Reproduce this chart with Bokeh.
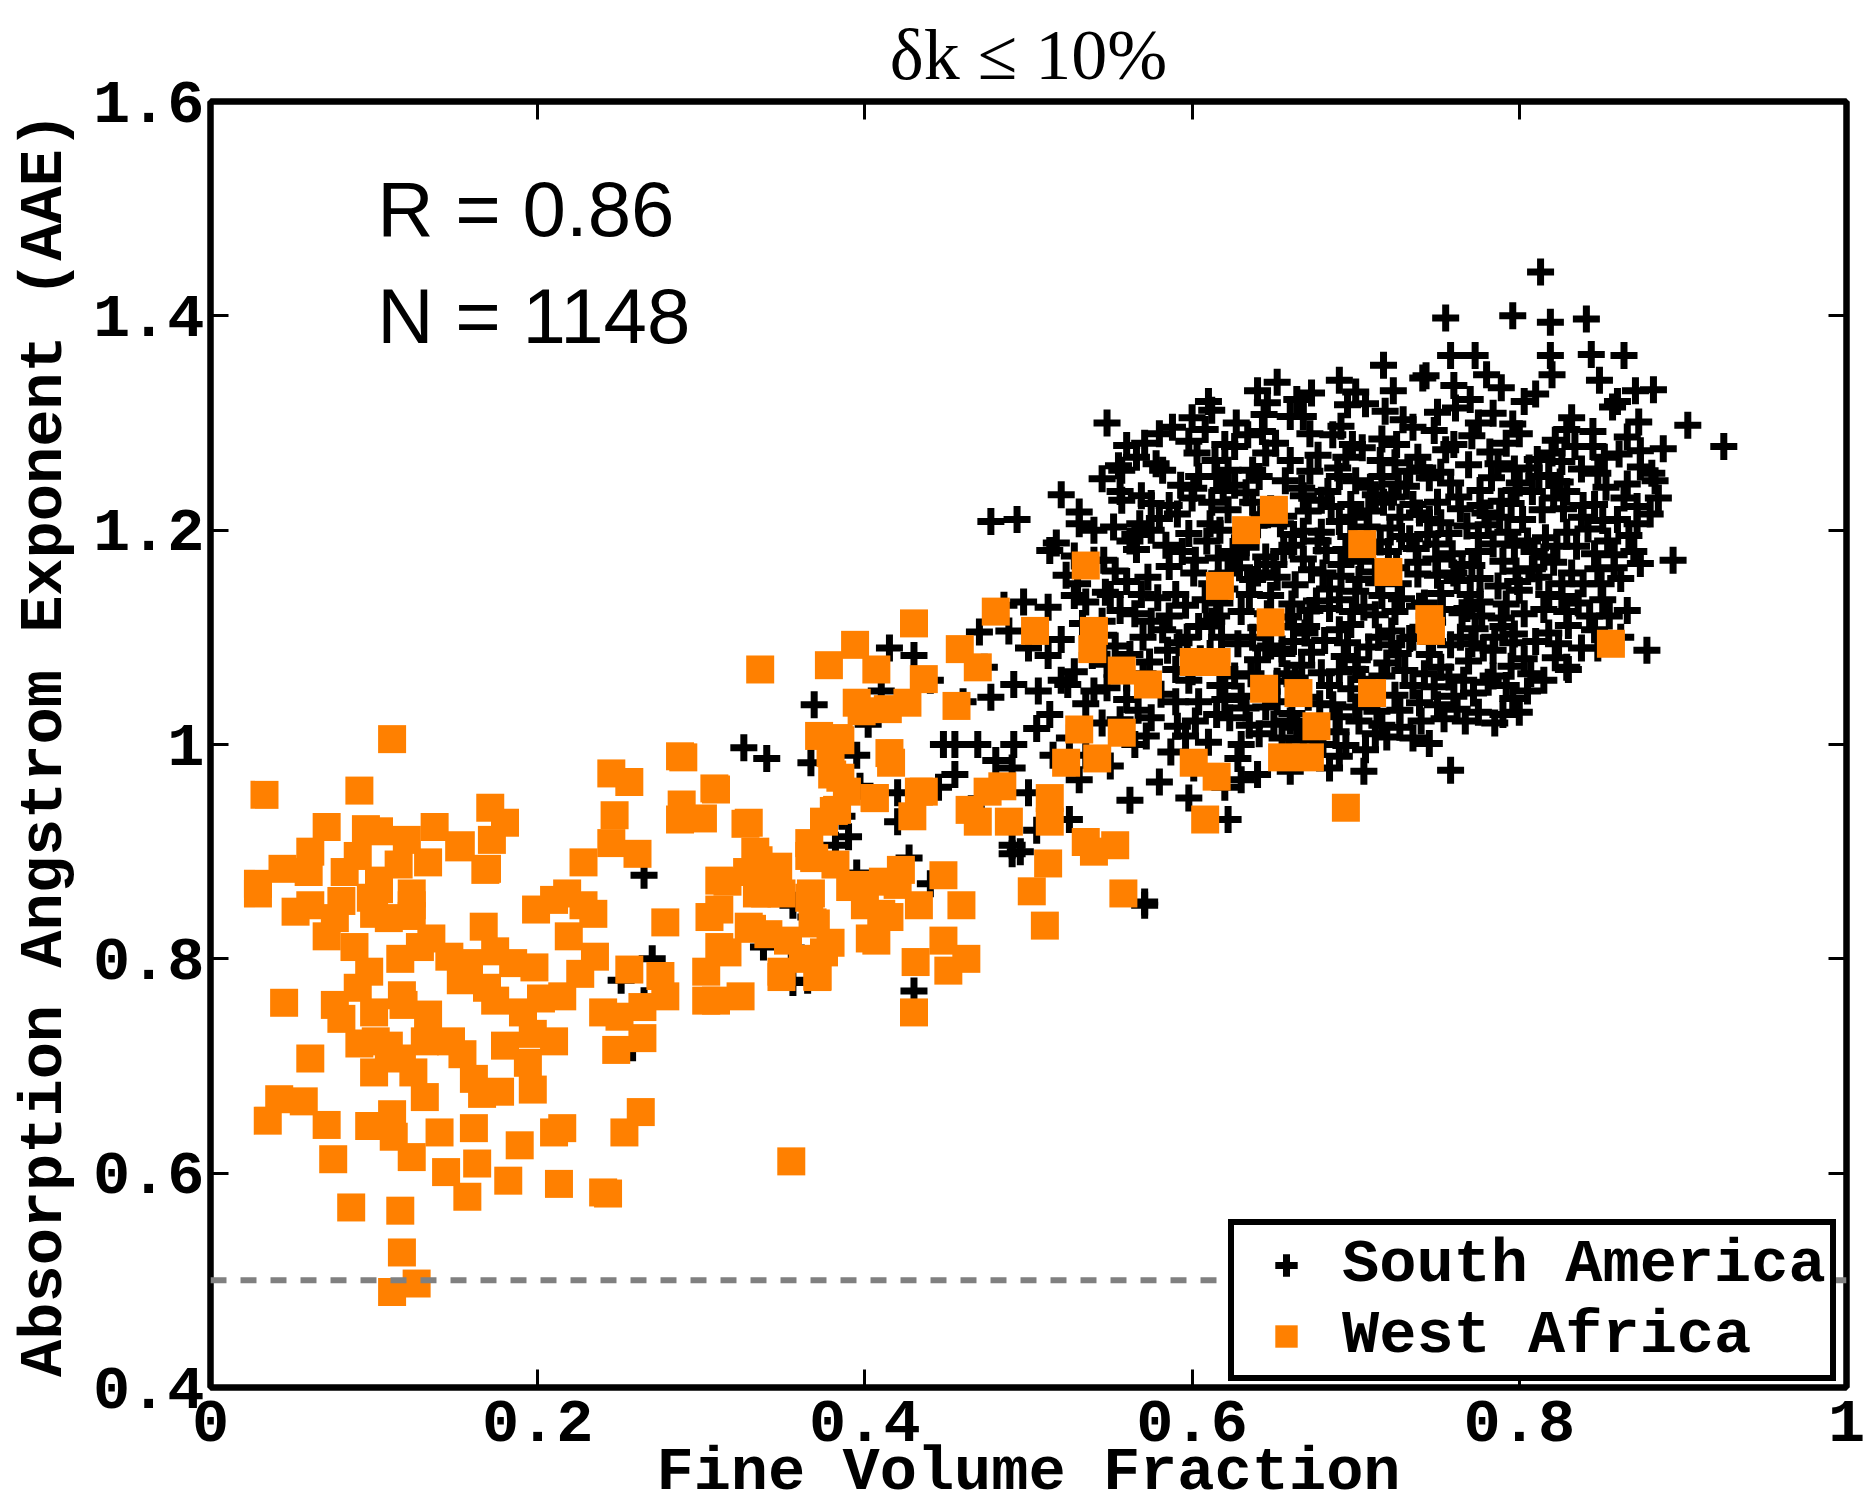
from bokeh.plotting import figure
from bokeh.models import (LinearAxis, Range1d, Label, Legend, LegendItem, FixedTicker,
                          Span, CustomJSTickFormatter)
from bokeh.embed import file_html
from bokeh.resources import INLINE

# ---------------- data ----------------
x_ticks = [0, 0.2, 0.4, 0.6, 0.8, 1]
x_tick_labels = ["0", "0.2", "0.4", "0.6", "0.8", "1"]
y_ticks = [0.4, 0.6, 0.8, 1.0, 1.2, 1.4, 1.6]
y_tick_labels = ["0.4", "0.6", "0.8", "1", "1.2", "1.4", "1.6"]
aae_reference = 0.5
title_text = "\u03b4k \u2264 10%"
stats_text = ["R = 0.86", "N = 1148"]
series_names = ["South America", "West Africa"]

south_america = [
    # sparse outliers / upper envelope
    (0.813, 1.441), (0.755, 1.398), (0.796, 1.400), (0.819, 1.394), (0.841, 1.397),
    (0.773, 1.363), (0.758, 1.363), (0.819, 1.363), (0.844, 1.364), (0.864, 1.363),
    (0.717, 1.354), (0.743, 1.344), (0.882, 1.331), (0.903, 1.298), (0.925, 1.278),
    (0.874, 1.274), (0.881, 1.253), (0.894, 1.172), (0.872, 1.206), (0.878, 1.088),
    (0.829, 1.072), (0.805, 1.050), (0.767, 1.022), (0.758, 0.976), (0.684, 0.978),
    (0.622, 0.930), (0.630, 0.967), (0.571, 0.853), (0.562, 0.948), (0.548, 1.300),
    (0.571, 1.281), (0.608, 1.294), (0.520, 1.233), (0.477, 1.208), (0.493, 1.210),
    (0.513, 1.181), (0.531, 1.206), (0.646, 1.319), (0.660, 1.306), (0.673, 1.328),
    (0.644, 1.308), (0.695, 1.317), (0.615, 1.250), (0.626, 1.278), (0.637, 1.256),
    (0.601, 1.239), (0.582, 1.256), (0.557, 1.256), (0.557, 1.228), (0.568, 1.206),
    (0.546, 1.172), (0.528, 1.139), (0.497, 1.133), (0.488, 1.106), (0.512, 1.083),
    (0.524, 1.056), (0.506, 1.050), (0.491, 1.056), (0.473, 1.072), (0.477, 1.044),
    (0.513, 1.028), (0.525, 1.006), (0.491, 1.000), (0.469, 1.000), (0.448, 1.000),
    (0.490, 0.978), (0.531, 0.967), (0.455, 0.972), (0.430, 1.083), (0.369, 1.037),
    (0.410, 1.050), (0.340, 0.987), (0.402, 1.019), (0.367, 0.983), (0.397, 0.961),
    (0.386, 0.933), (0.420, 0.928), (0.390, 0.914), (0.382, 0.906), (0.427, 0.894),
    (0.490, 0.906), (0.495, 0.900), (0.571, 0.850), (0.367, 0.839), (0.356, 0.850),
    (0.338, 0.811), (0.356, 0.778), (0.265, 0.878), (0.251, 0.780), (0.265, 0.761),
    (0.258, 0.717), (0.326, 0.997),
    # crosses among the West Africa squares
    (0.375, 1.000), (0.395, 0.990), (0.420, 0.955), (0.445, 0.960), (0.465, 0.940),
    (0.480, 0.985), (0.500, 0.955), (0.505, 1.015), (0.460, 1.040), (0.440, 1.060),
    (0.415, 1.090), (0.470, 1.105), (0.485, 1.130), (0.455, 1.000), (0.515, 0.990),
    (0.535, 0.990), (0.545, 1.020), (0.520, 1.060), (0.500, 1.090), (0.540, 1.050),
    (0.550, 0.980), (0.565, 1.000), (0.525, 0.930), (0.505, 0.920), (0.490, 0.898),
    (0.430, 0.770), (0.440, 0.870), (0.395, 0.880), (0.355, 0.810), (0.365, 0.780),
    (0.270, 0.800),
    # dense core
    (0.652, 1.338), (0.700, 1.329), (0.741, 1.342), (0.789, 1.333), (0.810, 1.327),
    (0.849, 1.340), (0.871, 1.330),
    (0.612, 1.312), (0.668, 1.306), (0.706, 1.318), (0.729, 1.303), (0.761, 1.314),
    (0.784, 1.309), (0.803, 1.320), (0.832, 1.305), (0.857, 1.315), (0.873, 1.301),
    (0.588, 1.296), (0.634, 1.289), (0.691, 1.297), (0.716, 1.285), (0.748, 1.293),
    (0.771, 1.288), (0.796, 1.299), (0.822, 1.284), (0.845, 1.292), (0.866, 1.287),
    (0.560, 1.279), (0.603, 1.272), (0.651, 1.281), (0.677, 1.270), (0.704, 1.277),
    (0.738, 1.268), (0.760, 1.280), (0.782, 1.273), (0.811, 1.266), (0.834, 1.278),
    (0.861, 1.271), (0.888, 1.276),
    (0.578, 1.262), (0.622, 1.256), (0.660, 1.265), (0.689, 1.258), (0.724, 1.263),
    (0.752, 1.254), (0.769, 1.261), (0.797, 1.257), (0.826, 1.264), (0.848, 1.253),
    (0.874, 1.259),
    (0.545, 1.248), (0.593, 1.242), (0.641, 1.250), (0.667, 1.239), (0.700, 1.246),
    (0.731, 1.241), (0.745, 1.249), (0.776, 1.237), (0.800, 1.244), (0.818, 1.251),
    (0.853, 1.240), (0.883, 1.246),
    (0.569, 1.232), (0.612, 1.226), (0.633, 1.235), (0.679, 1.228), (0.712, 1.233),
    (0.735, 1.224), (0.763, 1.231), (0.789, 1.227), (0.808, 1.236), (0.839, 1.223),
    (0.864, 1.230),
    (0.531, 1.217), (0.580, 1.211), (0.622, 1.219), (0.656, 1.213), (0.690, 1.208),
    (0.708, 1.218), (0.727, 1.212), (0.752, 1.207), (0.779, 1.216), (0.802, 1.210),
    (0.827, 1.220), (0.851, 1.209), (0.880, 1.215),
    (0.552, 1.203), (0.598, 1.197), (0.640, 1.205), (0.668, 1.199), (0.697, 1.194),
    (0.721, 1.202), (0.744, 1.196), (0.768, 1.204), (0.793, 1.198), (0.816, 1.193),
    (0.842, 1.201), (0.867, 1.195),
    (0.517, 1.188), (0.566, 1.182), (0.609, 1.190), (0.627, 1.179), (0.661, 1.186),
    (0.682, 1.181), (0.715, 1.189), (0.737, 1.183), (0.759, 1.178), (0.784, 1.187),
    (0.809, 1.180), (0.835, 1.185), (0.858, 1.177),
    (0.540, 1.172), (0.586, 1.166), (0.616, 1.174), (0.650, 1.168), (0.673, 1.163),
    (0.703, 1.171), (0.725, 1.165), (0.749, 1.173), (0.771, 1.167), (0.798, 1.162),
    (0.821, 1.170), (0.848, 1.164), (0.874, 1.169),
    (0.523, 1.158), (0.560, 1.152), (0.601, 1.160), (0.637, 1.154), (0.663, 1.149),
    (0.691, 1.157), (0.714, 1.151), (0.738, 1.159), (0.762, 1.153), (0.787, 1.148),
    (0.812, 1.156), (0.839, 1.150), (0.862, 1.155),
    (0.547, 1.142), (0.579, 1.137), (0.620, 1.145), (0.648, 1.139), (0.676, 1.134),
    (0.700, 1.143), (0.728, 1.136), (0.752, 1.141), (0.776, 1.133), (0.800, 1.144),
    (0.826, 1.138), (0.851, 1.135),
    (0.512, 1.128), (0.565, 1.122), (0.596, 1.130), (0.630, 1.124), (0.659, 1.119),
    (0.684, 1.127), (0.712, 1.121), (0.739, 1.129), (0.765, 1.123), (0.789, 1.118),
    (0.815, 1.126), (0.843, 1.120), (0.866, 1.125),
    (0.533, 1.113), (0.582, 1.107), (0.612, 1.115), (0.642, 1.109), (0.669, 1.104),
    (0.697, 1.112), (0.722, 1.106), (0.747, 1.114), (0.773, 1.108), (0.797, 1.103),
    (0.830, 1.111),
    (0.520, 1.098), (0.553, 1.092), (0.597, 1.100), (0.628, 1.094), (0.655, 1.089),
    (0.681, 1.097), (0.708, 1.091), (0.733, 1.099), (0.758, 1.093), (0.784, 1.088),
    (0.810, 1.096), (0.838, 1.090),
    (0.539, 1.083), (0.574, 1.077), (0.611, 1.085), (0.640, 1.079), (0.667, 1.074),
    (0.693, 1.082), (0.719, 1.076), (0.745, 1.084), (0.769, 1.078), (0.795, 1.073),
    (0.822, 1.081),
    (0.528, 1.068), (0.560, 1.062), (0.590, 1.070), (0.626, 1.064), (0.652, 1.059),
    (0.679, 1.067), (0.704, 1.061), (0.730, 1.069), (0.757, 1.063), (0.781, 1.058),
    (0.807, 1.066),
    (0.548, 1.053), (0.581, 1.047), (0.617, 1.055), (0.645, 1.049), (0.671, 1.044),
    (0.697, 1.052), (0.724, 1.046), (0.748, 1.054), (0.772, 1.048), (0.796, 1.043),
    (0.535, 1.038), (0.567, 1.032), (0.604, 1.040), (0.633, 1.034), (0.661, 1.029),
    (0.686, 1.037), (0.713, 1.031), (0.739, 1.039), (0.762, 1.033), (0.790, 1.028),
    (0.556, 1.023), (0.591, 1.017), (0.623, 1.025), (0.650, 1.019), (0.676, 1.014),
    (0.702, 1.022), (0.727, 1.016), (0.754, 1.024),
    (0.572, 1.008), (0.610, 1.002), (0.641, 1.010), (0.668, 1.004), (0.694, 0.999),
    (0.719, 1.007), (0.745, 1.001),
    (0.587, 0.993), (0.628, 0.987), (0.659, 0.995), (0.690, 0.989),
    (0.601, 0.978), (0.640, 0.972),
    (0.637, 1.226), (0.662, 1.196), (0.685, 1.222), (0.705, 1.185), (0.726, 1.243),
    (0.745, 1.210), (0.760, 1.160), (0.684, 1.145), (0.705, 1.128), (0.735, 1.100),
    (0.662, 1.110), (0.640, 1.160), (0.720, 1.180), (0.775, 1.195), (0.690, 1.250),
    (0.655, 1.085), (0.700, 1.070), (0.745, 1.120), (0.770, 1.140), (0.615, 1.120),
    (0.625, 1.180), (0.600, 1.230), (0.575, 1.200), (0.590, 1.140), (0.605, 1.080),
    (0.570, 1.100), (0.715, 1.265), (0.755, 1.275), (0.795, 1.225), (0.815, 1.175),
    (0.825, 1.245), (0.785, 1.100),
    (0.598, 1.283), (0.627, 1.300), (0.664, 1.322), (0.686, 1.289), (0.718, 1.311),
    (0.735, 1.296), (0.770, 1.322), (0.792, 1.281), (0.829, 1.294), (0.852, 1.268),
    (0.566, 1.268), (0.614, 1.265), (0.645, 1.272), (0.672, 1.255), (0.694, 1.268),
    (0.716, 1.250), (0.741, 1.258), (0.787, 1.262), (0.812, 1.250), (0.838, 1.257),
    (0.866, 1.243), (0.556, 1.236), (0.586, 1.223), (0.626, 1.242), (0.648, 1.220),
    (0.668, 1.232), (0.697, 1.224), (0.722, 1.231), (0.750, 1.226), (0.776, 1.223),
    (0.798, 1.237), (0.821, 1.230), (0.846, 1.224), (0.872, 1.222), (0.540, 1.200),
    (0.565, 1.196), (0.611, 1.206), (0.632, 1.193), (0.654, 1.206), (0.679, 1.198),
    (0.707, 1.203), (0.733, 1.192), (0.757, 1.197), (0.781, 1.205), (0.805, 1.190),
    (0.829, 1.198), (0.854, 1.190), (0.528, 1.176), (0.553, 1.162), (0.594, 1.180),
    (0.622, 1.160), (0.645, 1.175), (0.668, 1.173), (0.691, 1.168), (0.712, 1.161),
    (0.738, 1.170), (0.765, 1.168), (0.790, 1.171), (0.808, 1.164), (0.832, 1.160),
    (0.858, 1.165), (0.535, 1.133), (0.569, 1.140), (0.608, 1.135), (0.635, 1.140),
    (0.661, 1.131), (0.690, 1.135), (0.716, 1.139), (0.742, 1.132), (0.768, 1.127),
    (0.792, 1.131), (0.818, 1.140), (0.836, 1.132), (0.546, 1.102), (0.575, 1.115),
    (0.604, 1.110), (0.637, 1.100), (0.662, 1.096), (0.690, 1.107), (0.714, 1.100),
    (0.741, 1.107), (0.764, 1.100), (0.790, 1.110), (0.818, 1.104), (0.846, 1.107),
    (0.548, 1.075), (0.585, 1.088), (0.620, 1.070), (0.648, 1.092), (0.673, 1.086),
    (0.701, 1.079), (0.726, 1.085), (0.752, 1.072), (0.778, 1.090), (0.803, 1.080),
    (0.560, 1.042), (0.598, 1.060), (0.630, 1.045), (0.658, 1.066), (0.684, 1.055),
    (0.710, 1.046), (0.735, 1.055), (0.760, 1.045), (0.784, 1.064), (0.575, 1.025),
    (0.615, 1.028), (0.645, 1.035), (0.664, 1.016), (0.690, 1.026), (0.716, 1.018),
    (0.740, 1.022), (0.596, 1.008), (0.630, 1.000), (0.655, 1.006), (0.680, 1.000),
    (0.706, 0.995), (0.620, 0.960), (0.598, 0.950), (0.580, 0.965), (0.660, 0.975),
    (0.705, 0.975),
    (0.604, 1.250), (0.619, 1.237), (0.657, 1.246), (0.683, 1.236), (0.709, 1.240),
    (0.733, 1.255), (0.758, 1.244), (0.783, 1.249), (0.806, 1.258), (0.829, 1.236),
    (0.591, 1.215), (0.617, 1.200), (0.644, 1.214), (0.671, 1.218), (0.699, 1.212),
    (0.717, 1.226), (0.739, 1.216), (0.764, 1.220), (0.788, 1.212), (0.814, 1.219),
    (0.838, 1.212), (0.584, 1.186), (0.602, 1.172), (0.633, 1.184), (0.656, 1.180),
    (0.677, 1.190), (0.694, 1.182), (0.728, 1.194), (0.749, 1.187), (0.775, 1.180),
    (0.797, 1.186), (0.823, 1.185), (0.846, 1.178), (0.573, 1.156), (0.612, 1.150),
    (0.629, 1.165), (0.652, 1.156), (0.680, 1.160), (0.702, 1.154), (0.726, 1.150),
    (0.750, 1.158), (0.776, 1.155), (0.799, 1.152), (0.826, 1.150), (0.850, 1.150),
    (0.556, 1.125), (0.586, 1.120), (0.617, 1.132), (0.646, 1.122), (0.672, 1.125),
    (0.698, 1.124), (0.724, 1.124), (0.753, 1.126), (0.777, 1.120), (0.803, 1.122),
    (0.829, 1.124), (0.562, 1.084), (0.592, 1.095), (0.618, 1.100), (0.645, 1.090),
    (0.670, 1.110), (0.695, 1.095), (0.722, 1.093), (0.747, 1.096), (0.771, 1.094),
    (0.796, 1.095), (0.824, 1.094), (0.570, 1.066), (0.600, 1.068), (0.636, 1.066),
    (0.663, 1.062), (0.690, 1.068), (0.716, 1.064), (0.742, 1.066), (0.766, 1.060),
    (0.792, 1.055), (0.590, 1.040), (0.620, 1.042), (0.652, 1.040), (0.678, 1.038),
    (0.700, 1.035), (0.727, 1.032), (0.750, 1.037), (0.775, 1.030), (0.602, 1.022),
    (0.635, 1.018), (0.660, 1.022), (0.688, 1.012), (0.712, 1.010), (0.735, 1.006),
    (0.620, 1.280), (0.643, 1.292), (0.672, 1.290), (0.698, 1.280), (0.725, 1.280),
    (0.750, 1.310), (0.775, 1.300), (0.800, 1.290), (0.820, 1.272), (0.845, 1.278),
    (0.610, 1.320), (0.640, 1.330), (0.690, 1.340), (0.723, 1.330), (0.760, 1.335),
    (0.780, 1.345), (0.820, 1.345), (0.860, 1.320), (0.860, 1.210), (0.870, 1.180),
    (0.885, 1.230), (0.855, 1.120), (0.862, 1.100), (0.848, 1.090), (0.830, 1.070),
    (0.815, 1.060), (0.800, 1.030), (0.785, 1.020), (0.575, 1.225), (0.562, 1.190),
    (0.550, 1.140), (0.545, 1.115), (0.540, 1.090), (0.530, 1.150), (0.555, 1.260),
    (0.580, 1.290), (0.600, 1.305),
]

west_africa = [
    # low fine-fraction cluster
    (0.033, 0.953), (0.091, 0.957), (0.111, 1.005), (0.171, 0.941), (0.172, 0.911),
    (0.168, 0.883), (0.153, 0.906), (0.137, 0.923), (0.120, 0.911), (0.103, 0.919),
    (0.095, 0.921), (0.071, 0.923), (0.061, 0.900), (0.044, 0.884), (0.029, 0.870),
    (0.029, 0.861), (0.060, 0.881), (0.082, 0.881), (0.103, 0.873), (0.123, 0.861),
    (0.133, 0.890), (0.115, 0.888), (0.052, 0.844), (0.061, 0.850), (0.080, 0.854),
    (0.100, 0.842), (0.123, 0.850), (0.071, 0.821), (0.088, 0.811), (0.097, 0.788),
    (0.045, 0.759), (0.076, 0.757), (0.090, 0.773), (0.100, 0.750), (0.080, 0.744),
    (0.091, 0.721), (0.109, 0.719), (0.100, 0.694), (0.061, 0.707), (0.042, 0.669),
    (0.057, 0.667), (0.035, 0.649), (0.071, 0.645), (0.097, 0.644), (0.111, 0.655),
    (0.112, 0.634), (0.123, 0.615), (0.075, 0.613), (0.086, 0.568), (0.116, 0.565),
    (0.117, 0.526), (0.126, 0.497), (0.111, 0.489), (0.140, 0.638), (0.144, 0.601),
    (0.157, 0.578), (0.163, 0.609), (0.161, 0.642), (0.166, 0.674), (0.161, 0.688),
    (0.182, 0.593), (0.189, 0.626), (0.213, 0.590), (0.210, 0.638), (0.215, 0.642),
    (0.197, 0.678), (0.177, 0.676), (0.240, 0.582), (0.253, 0.638), (0.263, 0.657),
    (0.131, 0.671), (0.124, 0.694), (0.117, 0.707), (0.101, 0.723), (0.147, 0.723),
    (0.131, 0.723), (0.154, 0.711), (0.118, 0.757), (0.133, 0.748), (0.117, 0.766),
    (0.158, 0.796), (0.153, 0.780), (0.146, 0.802), (0.116, 0.800), (0.128, 0.811),
    (0.135, 0.819), (0.169, 0.773), (0.185, 0.796), (0.198, 0.792), (0.174, 0.761),
    (0.191, 0.750), (0.202, 0.763), (0.210, 0.723), (0.194, 0.703), (0.180, 0.719),
    (0.197, 0.730), (0.167, 0.830), (0.174, 0.807), (0.199, 0.846), (0.218, 0.861),
    (0.228, 0.850), (0.234, 0.842), (0.219, 0.821), (0.235, 0.802), (0.226, 0.786),
    (0.215, 0.765), (0.240, 0.750), (0.250, 0.746), (0.264, 0.755), (0.264, 0.726),
    (0.248, 0.715), (0.256, 0.790), (0.278, 0.834), (0.275, 0.784), (0.278, 0.765),
    (0.303, 0.788), (0.303, 0.761), (0.324, 0.765), (0.311, 0.811), (0.311, 0.846),
    (0.329, 0.830), (0.341, 0.823), (0.349, 0.788), (0.371, 0.784), (0.362, 0.800),
    (0.379, 0.815), (0.368, 0.834), (0.366, 0.857), (0.341, 0.873), (0.328, 0.881),
    (0.311, 0.873), (0.335, 0.892), (0.366, 0.896), (0.382, 0.888), (0.334, 0.861),
    (0.329, 0.927), (0.309, 0.958), (0.289, 0.988), (0.301, 0.931), (0.288, 0.944),
    (0.245, 0.973), (0.256, 0.965), (0.247, 0.934), (0.245, 0.908), (0.261, 0.898),
    (0.228, 0.890), (0.210, 0.855), (0.385, 1.004), (0.385, 0.969), (0.381, 0.938),
    (0.366, 0.908), (0.406, 0.950), (0.398, 1.031), (0.415, 0.992), (0.396, 0.869),
    (0.410, 0.842), (0.403, 0.819), (0.420, 0.869), (0.180, 0.927), (0.169, 0.884),
    (0.152, 0.904), (0.123, 0.840), (0.103, 0.865), (0.090, 0.896), (0.076, 0.838),
    (0.098, 0.857), (0.109, 0.838),
    # mid and high fine-fraction squares
    (0.336, 1.070), (0.394, 1.093), (0.378, 1.074), (0.407, 1.070), (0.430, 1.113),
    (0.395, 1.039), (0.414, 1.033), (0.426, 1.039), (0.436, 1.061), (0.456, 1.036),
    (0.458, 1.089), (0.469, 1.072), (0.480, 1.124), (0.504, 1.106), (0.535, 1.167),
    (0.540, 1.106), (0.539, 1.089), (0.633, 1.200), (0.650, 1.219), (0.617, 1.148),
    (0.648, 1.114), (0.704, 1.187), (0.720, 1.161), (0.745, 1.117), (0.746, 1.106),
    (0.856, 1.094), (0.604, 1.077), (0.615, 1.077), (0.601, 1.077), (0.557, 1.069),
    (0.573, 1.056), (0.644, 1.052), (0.665, 1.048), (0.710, 1.048), (0.676, 1.017),
    (0.655, 0.988), (0.672, 0.988), (0.601, 0.983), (0.615, 0.970), (0.608, 0.930),
    (0.694, 0.941), (0.531, 1.014), (0.557, 1.011), (0.523, 0.983), (0.542, 0.987),
    (0.513, 0.950), (0.513, 0.928), (0.512, 0.889), (0.535, 0.909), (0.553, 0.906),
    (0.540, 0.900), (0.502, 0.863), (0.558, 0.861), (0.510, 0.831), (0.484, 0.961),
    (0.488, 0.928), (0.475, 0.956), (0.464, 0.939), (0.469, 0.928), (0.433, 0.956),
    (0.416, 0.983), (0.429, 0.933), (0.436, 0.956), (0.406, 0.950), (0.380, 0.972),
    (0.389, 0.956), (0.375, 0.928), (0.383, 0.939), (0.372, 1.008), (0.384, 1.006),
    (0.379, 0.992), (0.287, 0.989), (0.308, 0.959), (0.287, 0.930), (0.327, 0.926),
    (0.333, 0.900), (0.347, 0.886), (0.316, 0.872), (0.339, 0.861), (0.369, 0.894),
    (0.349, 0.861), (0.367, 0.861), (0.391, 0.867), (0.400, 0.850), (0.411, 0.872),
    (0.422, 0.883), (0.433, 0.850), (0.415, 0.839), (0.448, 0.878), (0.459, 0.850),
    (0.407, 0.817), (0.431, 0.797), (0.448, 0.817), (0.462, 0.800), (0.451, 0.789),
    (0.430, 0.750), (0.370, 0.833), (0.375, 0.806), (0.353, 0.817), (0.349, 0.783),
    (0.371, 0.783), (0.331, 0.828), (0.316, 0.806), (0.305, 0.839), (0.309, 0.761),
    (0.355, 0.611), (0.243, 0.581),
]

sa_x = [p[0] for p in south_america]
sa_y = [p[1] for p in south_america]
wa_x = [p[0] for p in west_africa]
wa_y = [p[1] for p in west_africa]

# ---------------- figure ----------------
MONO = "Liberation Mono"
FS = "62px"

p = figure(width=1870, height=1510,
           x_range=Range1d(0, 1), y_range=Range1d(0.4, 1.6),
           output_backend="svg", toolbar_location=None,
           min_border_left=210, min_border_right=24,
           min_border_top=101, min_border_bottom=121)

p.background_fill_color = "white"
p.border_fill_color = "white"
p.grid.visible = False
p.outline_line_color = "black"
p.outline_line_width = 6

p.title.text = title_text
p.title.align = "center"
p.title.text_font = "Liberation Serif"
p.title.text_font_style = "normal"
p.title.text_font_size = "72px"
p.title.text_color = "black"
p.title.standoff = 14


def fmt(vals, labs):
    return CustomJSTickFormatter(
        args=dict(tick_vals=vals, tick_labs=labs),
        code="const i = tick_vals.findIndex(t => Math.abs(t - tick) < 1e-9); return i >= 0 ? tick_labs[i] : '';")


def style_axis(ax, vals, labs, show_labels=True):
    ax.ticker = FixedTicker(ticks=vals)
    ax.axis_line_width = 6
    ax.axis_line_color = "black"
    ax.major_tick_in = 18
    ax.major_tick_out = 0
    ax.major_tick_line_width = 3
    ax.major_tick_line_color = "black"
    ax.minor_tick_line_color = None
    if show_labels:
        ax.formatter = fmt(vals, labs)
        ax.major_label_text_font = MONO
        ax.major_label_text_font_style = "bold"
        ax.major_label_text_font_size = FS
        ax.major_label_text_color = "black"
        ax.major_label_text_line_height = 0.9
        ax.axis_label_text_font = MONO
        ax.axis_label_text_font_style = "bold"
        ax.axis_label_text_font_size = FS
        ax.axis_label_text_color = "black"
        ax.axis_label_text_line_height = 0.9
    else:
        ax.formatter = CustomJSTickFormatter(code="return '';")
        ax.major_label_text_font_size = "2px"
        ax.major_label_standoff = 0


xa = p.xaxis[0]
style_axis(xa, x_ticks, x_tick_labels)
xa.axis_label = "Fine Volume Fraction"
xa.major_label_standoff = 13
xa.axis_label_standoff = -7

ya = p.yaxis[0]
style_axis(ya, y_ticks, y_tick_labels)
ya.axis_label = "Absorption Angstrom Exponent (AAE)"
ya.major_label_standoff = 6
ya.axis_label_standoff = 10

top_ax = LinearAxis()
style_axis(top_ax, x_ticks, x_tick_labels, show_labels=False)
p.add_layout(top_ax, "above")
right_ax = LinearAxis()
style_axis(right_ax, y_ticks, y_tick_labels, show_labels=False)
p.add_layout(right_ax, "right")

# reference line
p.add_layout(Span(location=aae_reference, dimension="width", line_color="#808080",
                  line_width=6, line_dash="16 14"))

r_sa = p.scatter(sa_x, sa_y, marker="cross", size=27, line_color="black",
                 line_width=7)
r_wa = p.scatter(wa_x, wa_y, marker="square", size=28, fill_color="#FF8000",
                 line_color=None)

for i, t in enumerate(stats_text):
    p.add_layout(Label(x=0.102, y=1.500 - 0.1 * i, text=t,
                       text_font="Liberation Sans", text_font_size="78px",
                       text_color="black", text_baseline="alphabetic",
                       text_align="left"))

legend = Legend(items=[LegendItem(label=series_names[0], renderers=[r_sa]),
                       LegendItem(label=series_names[1], renderers=[r_wa])],
                location=(1018, 6))
legend.border_line_color = "black"
legend.border_line_alpha = 1.0
legend.border_line_width = 6
legend.background_fill_color = "white"
legend.background_fill_alpha = 1
legend.padding = 4
legend.spacing = -18
legend.margin = 0
legend.glyph_width = 96
legend.glyph_height = 56
legend.label_standoff = 8
legend.label_height = 56
legend.label_text_font = MONO
legend.label_text_font_style = "bold"
legend.label_text_font_size = FS
legend.label_text_line_height = 0.9
legend.label_text_color = "black"
p.add_layout(legend, "center")

open("out.html", "w").write(file_html(p, INLINE))
